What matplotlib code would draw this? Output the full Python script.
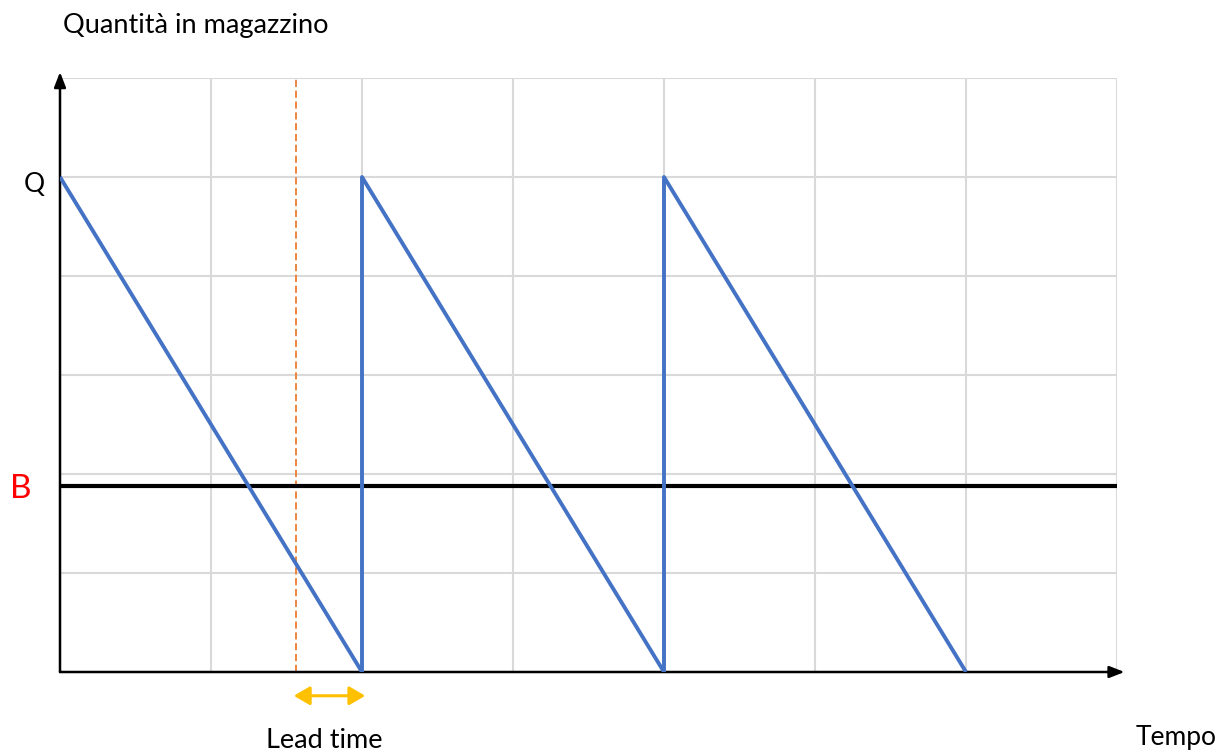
import matplotlib.pyplot as plt
from matplotlib.patches import FancyArrowPatch

# sawtooth stock level (time units, stock units)
t_stock = [0, 2, 2, 4, 4, 6]
q_stock = [5, 0, 5, 0, 5, 0]

Q_level = 5
B_level = 1.88
reorder_t = 1.56
lead_start = 1.53
lead_end = 2.04

x_max = 7
y_max = 6

plt.rcParams['font.family'] = ['Lato', 'DejaVu Sans']

fig = plt.figure(figsize=(12.27, 7.55), dpi=100)
ax = fig.add_axes([60 / 1227, 83 / 755, 1057 / 1227, 594 / 755])
ax.set_xlim(0, x_max)
ax.set_ylim(0, y_max)

# light grid
for gx in range(1, x_max + 1):
    ax.axvline(gx, color='#d9d9d9', lw=1.5, zorder=0)
for gy in range(1, y_max + 1):
    ax.axhline(gy, color='#d9d9d9', lw=1.5, zorder=0)

for s in ax.spines.values():
    s.set_visible(False)
ax.set_xticks([])
ax.set_yticks([])

# axes with arrow heads
ax.annotate('', xy=(7.05, 0), xytext=(0, 0), annotation_clip=False,
            arrowprops=dict(arrowstyle='-|>,head_length=0.9,head_width=0.35',
                            color='black', lw=1.8, shrinkA=0, shrinkB=0))
ax.annotate('', xy=(0, 6.06), xytext=(0, 0), annotation_clip=False,
            arrowprops=dict(arrowstyle='-|>,head_length=0.9,head_width=0.35',
                            color='black', lw=1.8, shrinkA=0, shrinkB=0))

# reorder level
ax.plot([0, x_max], [B_level, B_level], color='black', lw=3.0, zorder=3)

# stock
ax.plot(t_stock, q_stock, color='#4472C4', lw=2.8, zorder=4, solid_capstyle='butt')

# order moment
ax.plot([reorder_t, reorder_t], [0, y_max], color='#ED7D31', lw=1.3,
        ls=(0, (4, 2)), zorder=2)

# lead time arrow
arr = FancyArrowPatch((lead_start, -0.24), (lead_end, -0.24),
                      arrowstyle='<|-|>,head_length=6,head_width=3.5',
                      color='#FFC000', lw=2.2, mutation_scale=1.6,
                      clip_on=False)
ax.add_patch(arr)

ax.text(-0.1, Q_level - 0.08, 'Q', fontsize=19, ha='right', va='center')
ax.text(-0.19, B_level - 0.03, 'B', fontsize=24, color='red', ha='right', va='center')
ax.text(63 / 1227, 1 - 25 / 755, 'Quantità in magazzino', fontsize=19.5,
        transform=fig.transFigure, ha='left', va='center')
ax.text(324 / 1227, 1 - 741 / 755, 'Lead time', fontsize=19.5,
        transform=fig.transFigure, ha='center', va='center')
ax.text(1176 / 1227, 1 - 737 / 755, 'Tempo', fontsize=19,
        transform=fig.transFigure, ha='center', va='center')

fig.savefig('out.png', dpi=100)
